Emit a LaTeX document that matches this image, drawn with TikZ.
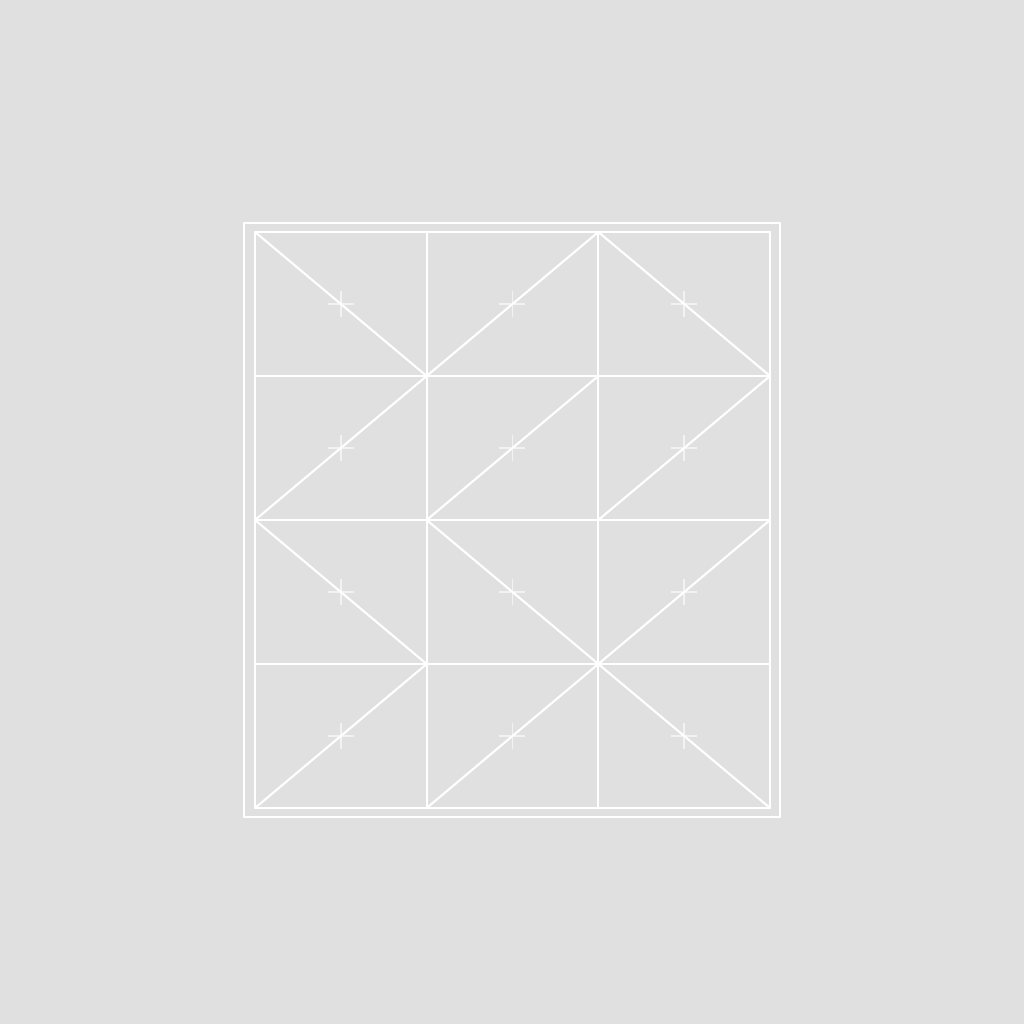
\documentclass[tikz,border=0pt]{standalone}
\usepackage{tikz}

\definecolor{panelgray}{RGB}{224,224,224}

\begin{document}
\begin{tikzpicture}[x=0.01cm, y=-0.01cm,
        edge/.style = {draw=white, line width=0.6pt},
        tick/.style = {draw=white, line width=0.4pt, opacity=0.6}]
    \fill[panelgray] (0,0) rectangle (1024,1024);

    % frame
    \draw[edge] (244,223) rectangle (780,817);
    \draw[edge] (255,232) rectangle (770,808);

    % grid points
    \foreach \c in {0,...,3}
        \foreach \r in {0,...,4}
            \coordinate (p\c\r) at ({255+171.67*\c}, {232+144*\r});

    % grid lines
    \foreach \c in {1,2}
        \draw[edge] (p\c0) -- (p\c4);
    \foreach \r in {1,2,3}
        \draw[edge] (p0\r) -- (p3\r);

    % diagonals
    \foreach \a/\b in {p00/p11, p11/p20, p20/p31,
                       p02/p11, p12/p21, p22/p31,
                       p02/p13, p12/p23, p23/p32,
                       p04/p13, p14/p23, p23/p34}
        \draw[edge] (\a) -- (\b);

    % centre marks
    \foreach \c in {0,1,2}
        \foreach \r in {0,...,3} {
            \coordinate (m\c\r) at ({340.8+171.67*\c}, {304+144*\r});
            \draw[tick] (m\c\r) ++(-13,0) -- ++(26,0);
            \draw[tick] (m\c\r) ++(0,-13) -- ++(0,26);
        }
\end{tikzpicture}
\end{document}
